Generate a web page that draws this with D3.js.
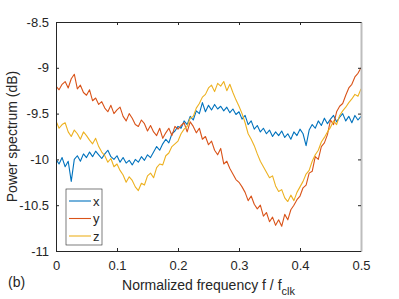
<!DOCTYPE html>
<html>
<head>
<meta charset="utf-8">
<script src="https://cdn.jsdelivr.net/npm/d3@7"></script>
<style>
  body { margin: 0; background: #fff; }
  svg { display: block; }
  text { font-family: "Liberation Sans", Arial, sans-serif; fill: #262626; }
</style>
</head>
<body>
<svg id="chart"></svg>
<script>
// frequency grid, f / f_clk, step 0.005
var freq = d3.range(101).map(function(i) { return +(i * 0.005).toFixed(3); });

var seriesX = [
  -10.00, -10.05, -9.98, -10.08, -10.02, -10.24, -10.00, -9.96, -10.02, -9.94,
  -9.98, -9.92, -9.97, -9.91, -9.95, -9.99, -9.94, -9.90, -9.97, -10.00,
  -9.96, -10.03, -9.98, -10.04, -10.01, -10.06, -10.00, -10.03, -9.97, -10.01,
  -9.95, -9.98, -9.92, -9.86, -9.90, -9.83, -9.78, -9.82, -9.72, -9.69,
  -9.64, -9.66, -9.58, -9.62, -9.53, -9.57, -9.47, -9.50, -9.38, -9.48,
  -9.41, -9.46, -9.40, -9.45, -9.42, -9.47, -9.43, -9.49, -9.45, -9.51,
  -9.48, -9.56, -9.52, -9.62, -9.58, -9.67, -9.63, -9.70, -9.66, -9.72,
  -9.68, -9.75, -9.70, -9.74, -9.69, -9.76, -9.72, -9.78, -9.70, -9.74,
  -9.67, -9.72, -9.85, -9.68, -9.62, -9.66, -9.58, -9.63, -9.55, -9.61,
  -9.56, -9.52, -9.59, -9.54, -9.50, -9.58, -9.53, -9.60, -9.52, -9.57,
  -9.53
];

var seriesY = [
  -9.20, -9.24, -9.18, -9.15, -9.22, -9.12, -9.07, -9.23, -9.19, -9.27,
  -9.30, -9.24, -9.36, -9.33, -9.40, -9.37, -9.44, -9.48, -9.41, -9.50,
  -9.46, -9.43, -9.53, -9.58, -9.50, -9.55, -9.62, -9.64, -9.57, -9.61,
  -9.69, -9.63, -9.70, -9.74, -9.66, -9.77, -9.71, -9.66, -9.74, -9.64,
  -9.67, -9.63, -9.60, -9.70, -9.59, -9.64, -9.71, -9.66, -9.78, -9.75,
  -9.84, -9.80, -9.90, -9.95, -9.88, -10.05, -10.02, -10.10, -10.16, -10.22,
  -10.25, -10.30, -10.36, -10.45, -10.40, -10.49, -10.54, -10.50, -10.62, -10.58,
  -10.68, -10.63, -10.72, -10.66, -10.73, -10.60, -10.66, -10.55, -10.50, -10.44,
  -10.40, -10.31, -10.28, -10.15, -10.13, -9.97, -10.00, -9.86, -9.82, -9.73,
  -9.57, -9.62, -9.48, -9.42, -9.39, -9.30, -9.22, -9.18, -9.10, -9.06,
  -9.00
];

var seriesZ = [
  -9.58, -9.66, -9.62, -9.60, -9.70, -9.75, -9.68, -9.72, -9.78, -9.70,
  -9.74, -9.79, -9.83, -9.77, -9.86, -9.92, -9.96, -10.03, -9.99, -10.08,
  -10.05, -10.12, -10.17, -10.25, -10.19, -10.23, -10.30, -10.34, -10.26, -10.28,
  -10.18, -10.15, -10.20, -10.09, -10.05, -10.06, -9.96, -9.93, -9.86, -9.83,
  -9.80, -9.72, -9.67, -9.64, -9.55, -9.53, -9.44, -9.39, -9.32, -9.29,
  -9.22, -9.19, -9.26, -9.17, -9.20, -9.15, -9.25, -9.18, -9.27, -9.35,
  -9.42, -9.50, -9.60, -9.72, -9.78, -9.85, -9.94, -10.02, -10.08, -10.14,
  -10.20, -10.18, -10.29, -10.35, -10.33, -10.42, -10.46, -10.39, -10.45, -10.36,
  -10.30, -10.24, -10.16, -10.12, -10.02, -9.95, -9.90, -9.81, -9.76, -9.70,
  -9.65, -9.58, -9.62, -9.52, -9.47, -9.43, -9.38, -9.34, -9.29, -9.31,
  -9.23
];

var seriesNames = ["x", "y", "z"];
var seriesColors = ["#0072BD", "#D95319", "#EDB120"];
var xTicks = [0, 0.1, 0.2, 0.3, 0.4, 0.5];
var yTicks = [-11, -10.5, -10, -9.5, -9, -8.5];

var svgWidth = 399, svgHeight = 299;
var margin = { top: 22, right: 38, bottom: 48, left: 56 };
var width = svgWidth - margin.left - margin.right;
var height = svgHeight - margin.top - margin.bottom;

var svg = d3.select("#chart")
    .attr("width", svgWidth)
    .attr("height", svgHeight);

var g = svg.append("g")
    .attr("transform", "translate(" + margin.left + "," + margin.top + ")");

var x = d3.scaleLinear().domain([0, 0.5]).range([0, width]);
var y = d3.scaleLinear().domain([-11, -8.5]).range([height, 0]);

var line = d3.line()
    .x(function(d) { return x(d.f); })
    .y(function(d) { return y(d.v); });

var allSeries = [seriesX, seriesY, seriesZ];

g.append("clipPath").attr("id", "clip")
  .append("rect").attr("width", width).attr("height", height);

allSeries.forEach(function(vals, k) {
    var data = freq.map(function(f, i) { return { f: f, v: vals[i] }; });
    g.append("path")
        .datum(data)
        .attr("clip-path", "url(#clip)")
        .attr("fill", "none")
        .attr("stroke", seriesColors[k])
        .attr("stroke-width", 1.1)
        .attr("stroke-linejoin", "round")
        .attr("d", line);
});

// axes, MATLAB style: ticks inside, box on, plain hyphen minus
function plain(d) { return String(d); }

function styleAxis(sel) {
    sel.selectAll(".domain").attr("stroke", "#262626");
    sel.selectAll(".tick line").attr("stroke", "#262626");
    sel.selectAll("text").attr("font-size", 13).attr("fill", "#262626")
        .attr("font-family", "Liberation Sans, Arial, sans-serif");
}

g.append("g")
    .attr("transform", "translate(0," + height + ")")
    .call(d3.axisBottom(x).tickValues(xTicks).tickFormat(plain).tickSizeInner(-3).tickSizeOuter(0).tickPadding(10))
    .call(styleAxis);

g.append("g")
    .call(d3.axisTop(x).tickValues(xTicks).tickFormat("").tickSizeInner(-3).tickSizeOuter(0))
    .call(styleAxis);

g.append("g")
    .call(d3.axisLeft(y).tickValues(yTicks).tickFormat(plain).tickSizeInner(-3).tickSizeOuter(0).tickPadding(7))
    .call(styleAxis);

g.append("g")
    .attr("transform", "translate(" + width + ",0)")
    .call(d3.axisRight(y).tickValues(yTicks).tickFormat("").tickSizeInner(-3).tickSizeOuter(0))
    .call(styleAxis)
    .select(".domain").attr("stroke", "#bdbdbd").attr("stroke-width", 2);

// axis labels
var xl = svg.append("text")
    .attr("x", margin.left + width / 2)
    .attr("y", 290)
    .attr("text-anchor", "middle")
    .attr("font-size", 14);
xl.append("tspan").text("Normalized frequency f / f");
xl.append("tspan").attr("dy", 5).attr("font-size", 11).text("clk");

svg.append("text")
    .attr("transform", "translate(17," + (margin.top + height / 2) + ") rotate(-90)")
    .attr("text-anchor", "middle")
    .attr("font-size", 14)
    .text("Power spectrum (dB)");

svg.append("text")
    .attr("x", 8)
    .attr("y", 287)
    .attr("font-size", 14)
    .text("(b)");

// legend
var leg = svg.append("g").attr("transform", "translate(66,189)");
leg.append("rect")
    .attr("width", 36).attr("height", 56)
    .attr("fill", "#fff")
    .attr("stroke", "#262626")
    .attr("stroke-width", 0.6);

seriesNames.forEach(function(name, k) {
    var yy = 12 + k * 17.5;
    leg.append("line")
        .attr("x1", 3).attr("x2", 25)
        .attr("y1", yy).attr("y2", yy)
        .attr("stroke", seriesColors[k])
        .attr("stroke-width", 1.1);
    leg.append("text")
        .attr("x", 27).attr("y", yy + 4.5)
        .attr("font-size", 13)
        .text(name);
});
</script>
</body>
</html>
